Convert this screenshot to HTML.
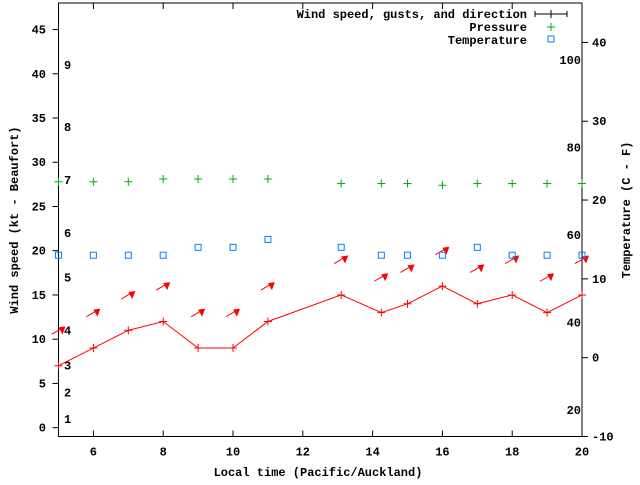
<!DOCTYPE html>
<html><head><meta charset="utf-8"><style>
body{margin:0;background:#fff}
svg text{font-family:"Liberation Mono",monospace;font-weight:bold;font-size:12px;fill:#000}
</style></head><body>
<svg id="chart" width="640" height="480" xmlns="http://www.w3.org/2000/svg">
<g id="axes"></g><g id="marks"></g>
</svg>
<script>
const times=[5,6,7,8,9,10,11,13.1,14.25,15,16,17,18,19,20];
const windKt=[7,9,11,12,9,9,12,15,13,14,16,14,15,13,15];
const gustKt=[11,13,15,16,13,13,16,19,17,18,20,18,19,17,19];
const pressure=[27.8,27.8,27.8,28.1,28.1,28.1,28.1,27.6,27.6,27.6,27.4,27.6,27.6,27.6,27.6];
const tempC=[13,13,13,13,14,14,15,14,13,13,13,14,13,13,13];
const xTicks=[6,8,10,12,14,16,18,20];
const yTicks=[0,5,10,15,20,25,30,35,40,45];
const cTicks=[-10,0,10,20,30,40];
const fTicks=[20,40,60,80,100];
const beaufort=[1,4,7,11,17,22,28,34,41];
const L=58.5,R=582,T=3,B=436.5;
const X=t=>L+(t-5)*(R-L)/15;
const Y=v=>B-(v+1)*(B-T)/49;
const YC=c=>B-(c+10)*(B-T)/55;
const NS="http://www.w3.org/2000/svg";
function mk(p,tag,attrs,txt){const e=document.createElementNS(NS,tag);for(const k in attrs)e.setAttribute(k,attrs[k]);if(txt!==undefined)e.textContent=txt;p.appendChild(e);return e;}
const ax=document.getElementById('axes'),mg=document.getElementById('marks');
let e=mk(ax,'rect',{x:L,y:T,width:R-L,height:B-T,fill:'none',stroke:'#000','stroke-width':1});


xTicks.forEach(t=>{
 mk(ax,'line',{x1:X(t),x2:X(t),y1:B,y2:B-6,stroke:'#000'});
 mk(ax,'line',{x1:X(t),x2:X(t),y1:T,y2:T+6,stroke:'#000'});
 const tx=mk(ax,'text',{x:X(t),y:B+19,'text-anchor':'middle'},t);
 
 
});
yTicks.forEach(v=>{
 mk(ax,'line',{x1:L,x2:L-6,y1:Y(v),y2:Y(v),stroke:'#000'});
 const tx=mk(ax,'text',{x:46,y:Y(v)+4,'text-anchor':'end'},v);
 
 
});
cTicks.forEach(c=>{
 mk(ax,'line',{x1:R,x2:R+6,y1:YC(c),y2:YC(c),stroke:'#000'});
 const tx=mk(ax,'text',{x:R+10,y:YC(c)+4},c);
 
 
});
fTicks.forEach(f=>{
 const tx=mk(ax,'text',{x:R-1,y:YC((f-32)*5/9)+4,'text-anchor':'end'},f);
 
 
});
beaufort.forEach((v,i)=>{
 const tx=mk(ax,'text',{x:64,y:Y(v)+4},i+1);
 
 
});
e=mk(ax,'text',{x:318,y:476,'text-anchor':'middle'},'Local time (Pacific/Auckland)');


e=mk(ax,'text',{x:0,y:0,'text-anchor':'middle',transform:'translate(18,220) rotate(-90)'},'Wind speed (kt - Beaufort)');


e=mk(ax,'text',{x:0,y:0,'text-anchor':'middle',transform:'translate(630,210) rotate(-90)'},'Temperature (C - F)');


// legend
e=mk(ax,'text',{x:527,y:18,'text-anchor':'end'},'Wind speed, gusts, and direction');


mk(ax,'path',{d:'M535 14H567M535 11V17M567 11V17M551 10V18M547 14H555',stroke:'#000','stroke-width':1,fill:'none'});
e=mk(ax,'text',{x:527,y:31,'text-anchor':'end'},'Pressure');


mk(ax,'path',{d:'M547 27H555M551 23V31',stroke:'#00b000',fill:'none'});
e=mk(ax,'text',{x:527,y:44,'text-anchor':'end'},'Temperature');


mk(ax,'rect',{x:548,y:36,width:6,height:6,stroke:'#0080ff',fill:'none'});
// wind line
let d='';times.forEach((t,i)=>{d+=(i?'L':'M')+X(t)+' '+Y(windKt[i]);});
e=mk(mg,'path',{d:d,stroke:'#f00',fill:'none','stroke-width':1});


times.forEach((t,i)=>{
 const x=X(t),y=Y(windKt[i]);
 e=mk(mg,'path',{d:`M${x-4} ${y}H${x+4}M${x} ${y-4}V${y+4}`,stroke:'#f00',fill:'none'});
 
 
 const gy=Y(gustKt[i]);
 e=mk(mg,'g',{});
 
 
 mk(e,'line',{x1:x-7,y1:gy+4,x2:x+5,y2:gy-3,stroke:'#f00'});
 mk(e,'polygon',{points:`${x+7},${gy-4} ${x},${gy-3} ${x+4},${gy+4}`,fill:'#f00'});
 const px=X(t),py=Y(pressure[i]);
 e=mk(mg,'path',{d:`M${px-4} ${py}H${px+4}M${px} ${py-4}V${py+4}`,stroke:'#00b000',fill:'none'});
 
 
 e=mk(mg,'rect',{x:X(t)-3,y:YC(tempC[i])-3,width:6,height:6,stroke:'#0080ff',fill:'none'});
 
 
});
</script>
</body></html>
